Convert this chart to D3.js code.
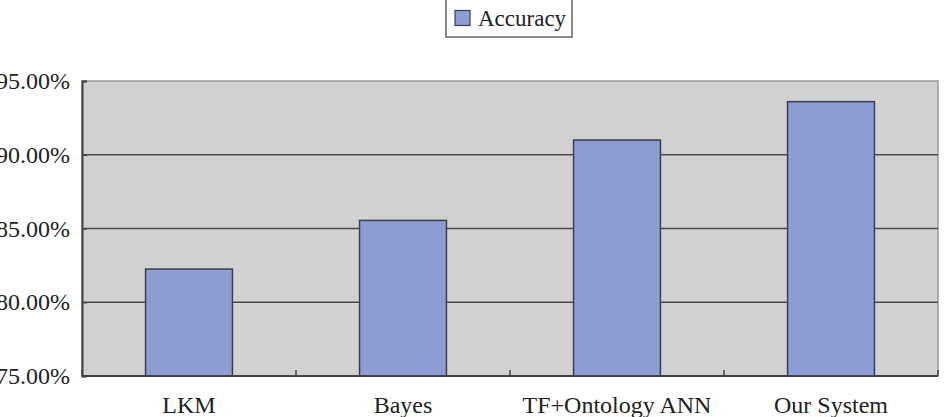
<!DOCTYPE html>
<html>
<head>
<meta charset="utf-8">
<script src="https://cdn.jsdelivr.net/npm/d3@7"></script>
<style>
  body { margin: 0; background: #fff; }
  svg text { font-family: "Liberation Serif", "Times New Roman", serif; fill: #222; }
</style>
</head>
<body>
<svg id="chart" width="946" height="417"></svg>
<script>
// chart data
var categories = ['LKM', 'Bayes', 'TF+Ontology ANN', 'Our System'];
var accuracy = [82.25, 85.55, 91.0, 93.6];
var yTicks = [75, 80, 85, 90, 95];
var seriesName = 'Accuracy';

var margin = { top: 81, right: 8, bottom: 41, left: 82 };
var width = 946 - margin.left - margin.right;
var height = 417 - margin.top - margin.bottom;

var svg = d3.select('#chart');
var g = svg.append('g').attr('transform', 'translate(' + margin.left + ',' + margin.top + ')');

var x = d3.scaleBand().domain(categories).range([0, width])
    .paddingInner(0.594).paddingOuter(0.297);
var y = d3.scaleLinear().domain([75, 95]).range([height, 0]);

// plot background with light top/right border
g.append('rect')
    .attr('width', width).attr('height', height)
    .attr('fill', '#d1d1d1')
    .attr('stroke', '#9a9a9a').attr('stroke-width', 1.5);

// gridlines
g.selectAll('.grid')
    .data(yTicks.filter(function (d) { return d > 75 && d < 95; }))
    .enter().append('line')
    .attr('class', 'grid')
    .attr('x1', 0).attr('x2', width)
    .attr('y1', y).attr('y2', y)
    .attr('stroke', '#4a4a4a').attr('stroke-width', 1.5);

// bars
g.selectAll('.bar')
    .data(accuracy)
    .enter().append('rect')
    .attr('class', 'bar')
    .attr('x', function (d, i) { return x(categories[i]); })
    .attr('width', x.bandwidth())
    .attr('y', y)
    .attr('height', function (d) { return height - y(d); })
    .attr('fill', '#8c9dd3')
    .attr('stroke', '#3a3f55').attr('stroke-width', 1.5);

// y axis
var yAxis = g.append('g')
    .call(d3.axisLeft(y).tickValues(yTicks).tickSize(-5).tickPadding(12)
        .tickFormat(function (d) { return d.toFixed(2) + '%'; }));
yAxis.select('.domain').attr('stroke', '#444').attr('stroke-width', 2);
yAxis.selectAll('.tick line').attr('stroke', '#444').attr('stroke-width', 1.5);
yAxis.selectAll('text').attr('font-size', 24).attr('fill', '#222')
    .attr('font-family', '"Liberation Serif", serif');

// x axis: ticks between categories, pointing up
var step = x.step();
var xAxis = g.append('g').attr('transform', 'translate(0,' + height + ')');
xAxis.append('line')
    .attr('x1', 0).attr('x2', width)
    .attr('stroke', '#444').attr('stroke-width', 2);
xAxis.selectAll('.xtick')
    .data(d3.range(categories.length + 1))
    .enter().append('line')
    .attr('x1', function (i) { return i * step; })
    .attr('x2', function (i) { return i * step; })
    .attr('y1', 0).attr('y2', -6)
    .attr('stroke', '#444').attr('stroke-width', 1.5);
xAxis.selectAll('.xlabel')
    .data(categories)
    .enter().append('text')
    .attr('x', function (d) { return x(d) + x.bandwidth() / 2; })
    .attr('y', 37)
    .attr('text-anchor', 'middle')
    .attr('font-size', 24)
    .text(function (d) { return d; });

// legend
var legend = svg.append('g');
legend.append('rect')
    .attr('x', 446).attr('y', -5).attr('width', 126).attr('height', 42)
    .attr('fill', '#fff').attr('stroke', '#666').attr('stroke-width', 1.5);
legend.append('rect')
    .attr('x', 455).attr('y', 10.5).attr('width', 15).attr('height', 15)
    .attr('fill', '#8c9dd3').attr('stroke', '#3a3f55').attr('stroke-width', 1.2);
legend.append('text')
    .attr('x', 478).attr('y', 26)
    .attr('font-size', 23)
    .text(seriesName);
</script>
</body>
</html>
